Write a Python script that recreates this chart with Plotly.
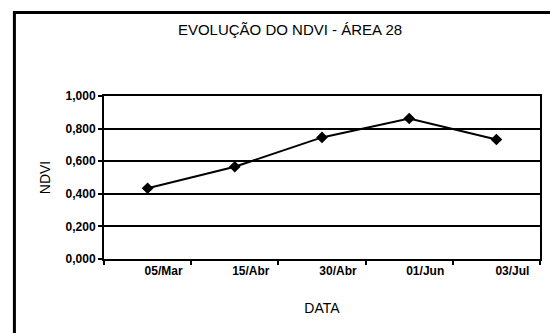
import plotly.graph_objects as go

# NDVI evolution for area 28
datas = ["05/Mar", "15/Abr", "30/Abr", "01/Jun", "03/Jul"]
ndvi = [0.434, 0.566, 0.746, 0.862, 0.733]
y_ticks = [0.0, 0.2, 0.4, 0.6, 0.8, 1.0]

FONT = "Liberation Sans, Arial, sans-serif"

fig = go.Figure(
    go.Scatter(
        x=datas,
        y=ndvi,
        mode="lines+markers",
        line=dict(color="black", width=2),
        marker=dict(symbol="diamond", size=9, color="black"),
        showlegend=False,
    )
)

fig.update_layout(
    width=550,
    height=333,
    margin=dict(l=104, r=8, t=96, b=74),
    paper_bgcolor="white",
    plot_bgcolor="white",
    separators=",.",
    font=dict(family=FONT, size=13, color="black"),
    title=dict(
        text="EVOLUÇÃO DO NDVI - ÁREA 28",
        x=290 / 550,
        xref="container",
        xanchor="center",
        y=1 - 30 / 333,
        yref="container",
        yanchor="middle",
        font=dict(family=FONT, size=15, color="black"),
    ),
    xaxis=dict(
        type="category",
        range=[-0.5, 4.5],
        tickson="boundaries",
        ticks="outside",
        ticklen=4,
        tickwidth=2,
        tickcolor="black",
        ticklabelshift=16,
        showline=True,
        linecolor="black",
        linewidth=2,
        mirror=True,
        showgrid=False,
        tickfont=dict(size=12, weight="bold"),
        title=dict(text="DATA", standoff=26, font=dict(size=14)),
    ),
    yaxis=dict(
        range=[0, 1],
        tickvals=y_ticks,
        tickformat=".3f",
        ticks="outside",
        ticklen=4,
        tickwidth=2,
        tickcolor="black",
        showline=True,
        linecolor="black",
        linewidth=2,
        mirror=True,
        showgrid=True,
        gridcolor="black",
        gridwidth=2,
        zeroline=False,
        tickfont=dict(size=12, weight="bold"),
        title=dict(text="NDVI", standoff=12, font=dict(size=14)),
    ),
    shapes=[
        dict(
            type="rect",
            xref="paper",
            yref="paper",
            x0=(14 - 104) / 438,
            x1=1.1,
            y0=-0.6,
            y1=(259.3 - 12) / 163.6,
            line=dict(color="black", width=3),
            fillcolor="rgba(0,0,0,0)",
            layer="below",
        )
    ],
)

fig.write_html("out.html")
